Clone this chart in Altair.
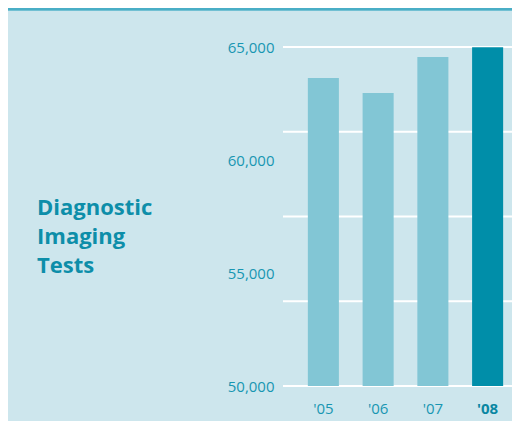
import json
import altair as alt
import pandas as pd

# ---- data ----
years = ["'05", "'06", "'07", "'08"]
tests = [63630, 62960, 64560, 64990]
status = ["past", "past", "past", "current"]
y_labels = [50000, 55000, 60000, 65000]
grid_values = [50000, 53750, 57500, 61250, 65000]
title_lines = ["Diagnostic", "Imaging", "Tests"]
base_value = 50000

df = pd.DataFrame({"year": years, "tests": tests, "status": status})
grid_df = pd.DataFrame({"v": grid_values})

BG = "#cde6ed"
LIGHT = "#82c6d5"
DARK = "#008ea9"
LABEL = "#1896b2"
LABEL_FONT = "Open Sans"
is_current = "datum.value === " + json.dumps(years[-1])

PLOT_W = 229

y_scale = alt.Scale(domain=[50000, 65000], nice=False, zero=False)
y_axis = alt.Axis(values=y_labels, format=",.0f", title=None, domain=False, ticks=False,
                  grid=False, labelPadding=9, labelFont=LABEL_FONT, labelFontSize=15,
                  labelColor=LABEL)
x_scale = alt.Scale(domain=years, range=[13, 232], paddingInner=0.433, paddingOuter=0.2165)
x_axis = alt.Axis(title=None, domain=False, ticks=False, labelAngle=0, labelPadding=15,
                  labelFont=LABEL_FONT, labelFontSize=15,
                  labelColor={"condition": {"test": is_current, "value": "#0a87a2"}, "value": LABEL},
                  labelFontWeight={"condition": {"test": is_current, "value": "bold"}, "value": "normal"})

grid = alt.Chart(grid_df).mark_rule(color="white", strokeWidth=2).encode(
    y=alt.Y("v:Q", scale=y_scale, axis=y_axis)
)

bars = alt.Chart(df).mark_bar().encode(
    x=alt.X("year:N", scale=x_scale, sort=years, axis=x_axis),
    y=alt.Y("tests:Q", scale=y_scale, axis=y_axis),
    y2=alt.datum(base_value),
    color=alt.Color("status:N", scale=alt.Scale(domain=["past", "current"], range=[LIGHT, DARK]), legend=None),
)

border = alt.Chart(df).mark_rule(color="#4aaec6", strokeWidth=2.5).encode(
    x=alt.value(-276), x2=alt.value(PLOT_W), y=alt.value(-38)
)

chart = alt.layer(grid, bars, border).properties(
    width=PLOT_W,
    height=339,
    autosize=alt.AutoSizeParams(type="none"),
    padding={"left": 275, "top": 39, "right": 0, "bottom": 35},
    background=BG,
    title=alt.TitleParams(
        text=title_lines, orient="top", anchor="start", frame="group", offset=0,
        dx=-246, dy=287, baseline="alphabetic", align="left",
        font="Open Sans", fontSize=22, fontWeight="bold", color="#0d8ea9", lineHeight=29,
    ),
).configure_view(stroke=None)

chart.save("out.html", embed_options={"renderer": "svg", "actions": False})
